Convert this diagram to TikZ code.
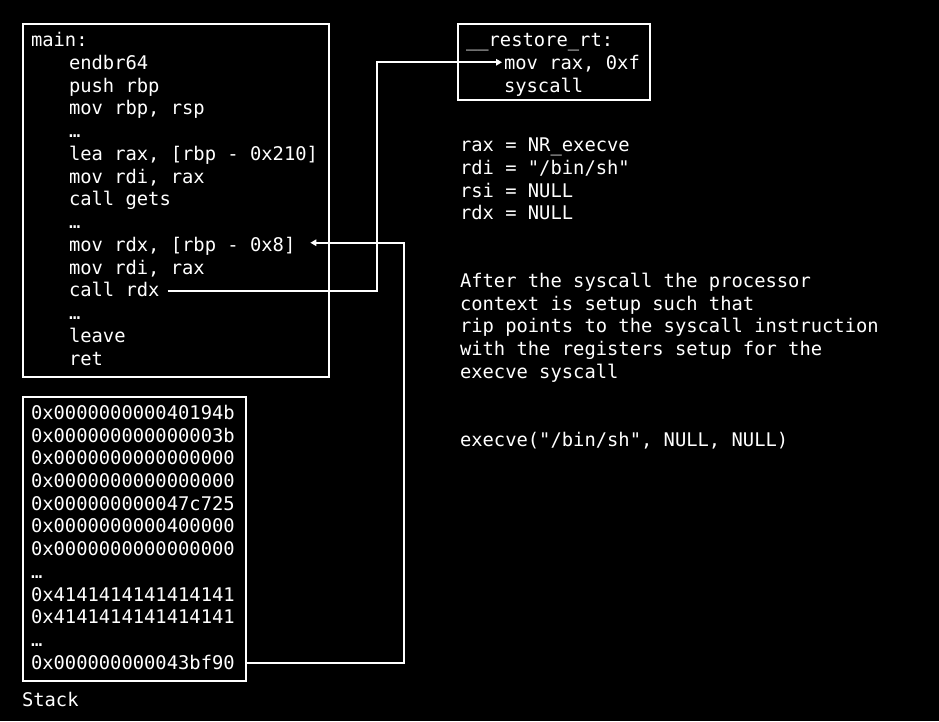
\documentclass[tikz,border=0pt]{standalone}
\usepackage{fontspec}
\setmonofont{DejaVu Sans Mono}
\usetikzlibrary{calc,arrows.meta}
\begin{document}
\begin{tikzpicture}[x=1pt,y=-1pt,
  code/.style={anchor=base west, inner sep=0pt, outer sep=0pt, text=white,
    font=\fontsize{18.8}{22.75}\selectfont\ttfamily},
  box/.style={draw=white, line width=2pt, anchor=north west, inner sep=0pt, outer sep=0pt},
  wire/.style={draw=white, line width=1.7pt, -{Triangle[length=6pt,width=6.5pt]}}]
\fill[black] (0,0) rectangle (939,721);
\useasboundingbox (0,0) rectangle (939,721);
% boxes
\node[box, minimum width=306pt, minimum height=353pt] (mainbox) at (23,24) {};
\node[box, minimum width=191.5pt, minimum height=76pt] (rtbox) at (458,24) {};
\node[box, minimum width=222.5pt, minimum height=284pt] (stackbox) at (23,397) {};
% main listing
\node[code] (m0) at (31,46.5) {main:};
\node[code] (m1) at (69,69.25) {endbr64};
\node[code] (m2) at (69,92) {push rbp};
\node[code] (m3) at (69,114.75) {mov rbp, rsp};
\node[code] (m4) at (69,137.5) {…};
\node[code] (m5) at (69,160.25) {lea rax, [rbp - 0x210]};
\node[code] (m6) at (69,183) {mov rdi, rax};
\node[code] (m7) at (69,205.75) {call gets};
\node[code] (m8) at (69,228.5) {…};
\node[code] (m9) at (69,251.25) {mov rdx, [rbp - 0x8]};
\node[code] (m10) at (69,274) {mov rdi, rax};
\node[code] (m11) at (69,296.75) {call rdx};
\node[code] (m12) at (69,319.5) {…};
\node[code] (m13) at (69,342.25) {leave};
\node[code] (m14) at (69,365) {ret};
% restore_rt
\node[code] (r0) at (466,46.5) {\_\_restore\_rt:};
\node[code] (r1) at (504,69.25) {mov rax, 0xf};
\node[code] (r2) at (504,92) {syscall};
% registers
\node[code] (g0) at (460,151.7) {rax = NR\_execve};
\node[code] (g1) at (460,174.45) {rdi = "/bin/sh"};
\node[code] (g2) at (460,197.2) {rsi = NULL};
\node[code] (g3) at (460,219.95) {rdx = NULL};
% explanation
\node[code] (p0) at (460,287.3) {After the syscall the processor};
\node[code] (p1) at (460,310.05) {context is setup such that};
\node[code] (p2) at (460,332.8) {rip points to the syscall instruction};
\node[code] (p3) at (460,355.55) {with the registers setup for the};
\node[code] (p4) at (460,378.3) {execve syscall};
\node[code] (ex) at (460,446.7) {execve("/bin/sh", NULL, NULL)};
% stack
\node[code] (k0) at (31,419.3) {0x000000000040194b};
\node[code] (k1) at (31,442.03) {0x000000000000003b};
\node[code] (k2) at (31,464.76) {0x0000000000000000};
\node[code] (k3) at (31,487.49) {0x0000000000000000};
\node[code] (k4) at (31,510.22) {0x000000000047c725};
\node[code] (k5) at (31,532.95) {0x0000000000400000};
\node[code] (k6) at (31,555.68) {0x0000000000000000};
\node[code] (k7) at (31,578.41) {…};
\node[code] (k8) at (31,601.14) {0x4141414141414141};
\node[code] (k9) at (31,623.87) {0x4141414141414141};
\node[code] (k10) at (31,646.6) {…};
\node[code] (k11) at (31,669.33) {0x000000000043bf90};
\node[code] (lbl) at (22,706) {Stack};
% connectors
\coordinate (bendA) at (377,0);
\coordinate (bendB) at (404,0);
\coordinate (s1) at ($(m11.base east)+(8,-5.75)$);
\coordinate (e1) at ($(r1.base west)+(-2,-7)$);
\draw[wire] (s1) -- (s1 -| bendA) |- (e1);
\coordinate (s2) at ($(k11.base west)+(0,-6.3)$);
\coordinate (e2) at ($(m9.base east)+(15,-8.5)$);
\draw[wire] (stackbox.east |- s2) -- (s2 -| bendB) |- (e2);
\end{tikzpicture}
\end{document}
